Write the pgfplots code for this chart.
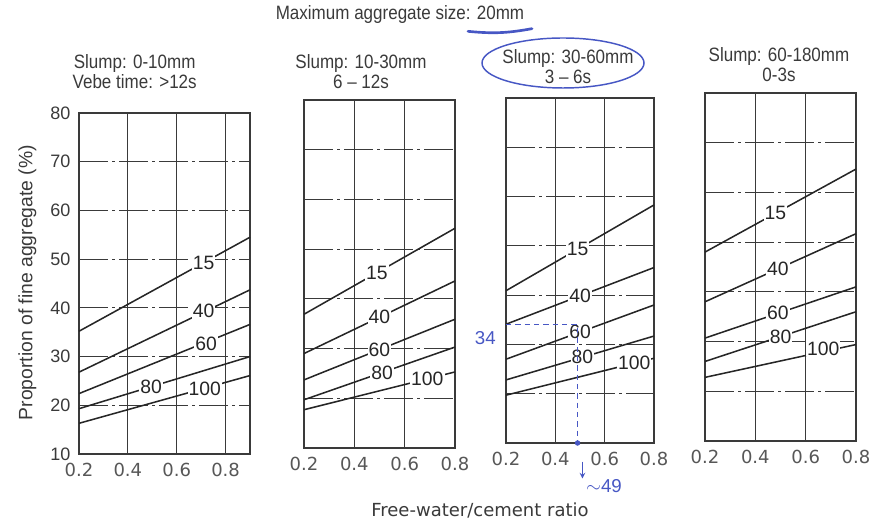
\documentclass[border=0pt]{standalone}
\usepackage{pgfplots}
\pgfplotsset{compat=1.18}
\usepackage{fontspec}
\setmainfont{Liberation Sans}
\newfontfamily\tickfont{DejaVu Sans}
\newfontfamily\titlefont{Liberation Sans}[FakeStretch=0.88]
\definecolor{ink}{HTML}{3A3A3A}
\definecolor{pen}{HTML}{4757C4}

\tikzset{
  curve/.style={black!85, line width=1.15pt},
  lbl/.style={fill=white, inner sep=0.8pt, font=\fontsize{14.5}{14.5}\selectfont, text=black!85},
}
\pgfplotsset{
  panel/.style={
    scale only axis, anchor=south west,
    xmin=0.2, xmax=0.8, ymin=10, ymax=80,
    xtick={0.2,0.4,0.6,0.8}, xticklabels={0.2,0.4,0.6,0.8},
    ytick={10,20,...,80}, yticklabels={},
    grid=major, major tick length=0pt,
    axis line style={ink, line width=1pt},
    x grid style={ink, line width=0.95pt},
    y grid style={ink, line width=0.95pt, dash pattern=on 22pt off 3pt on 2pt off 3pt},
    xticklabel style={font=\tickfont\fontsize{13.5}{13.5}\selectfont, text=ink!85, anchor=base, yshift=-17pt},
    yticklabel style={font=\fontsize{13.5}{13.5}\selectfont, text=ink, anchor=east, xshift=-3pt},
    clip=false,
  },
}

\begin{document}
\begin{tikzpicture}

% Slump 0-10mm
\begin{axis}[panel, at={(59.25pt,52.5pt)}, width=128.25pt, height=255.75pt,
  xmax=0.9, yticklabels={10,20,30,40,50,60,70,80}]
  \addplot[curve] coordinates {(0.2,35.2) (0.9,54.5)};
  \addplot[curve] coordinates {(0.2,26.8) (0.9,43.7)};
  \addplot[curve] coordinates {(0.2,22.4) (0.9,36.6)};
  \addplot[curve] coordinates {(0.2,19.3) (0.9,30.0)};
  \addplot[curve] coordinates {(0.2,16.3) (0.9,26.1)};
  \node[lbl] at (0.71,49.3) {15};
  \node[lbl] at (0.71,39.3) {40};
  \node[lbl] at (0.72,32.6) {60};
  \node[lbl] at (0.495,23.8) {80};
  \node[lbl] at (0.715,23.3) {100};
\end{axis}

% Slump 10-30mm
\begin{axis}[panel, at={(228pt,57pt)}, width=113.25pt, height=261pt]
  \addplot[curve] coordinates {(0.2,36.9) (0.8,54.2)};
  \addplot[curve] coordinates {(0.2,29.0) (0.8,43.6)};
  \addplot[curve] coordinates {(0.2,23.7) (0.8,35.9)};
  \addplot[curve] coordinates {(0.2,19.7) (0.8,30.3)};
  \addplot[curve] coordinates {(0.2,17.7) (0.8,25.3)};
  \node[lbl] at (0.49,45.2) {15};
  \node[lbl] at (0.50,36.3) {40};
  \node[lbl] at (0.50,29.8) {60};
  \node[lbl] at (0.51,25.2) {80};
  \node[lbl] at (0.69,24.0) {100};
\end{axis}

% Slump 30-60mm
\begin{axis}[panel, at={(379.5pt,60.75pt)}, width=111pt, height=258.75pt]
  \addplot[curve] coordinates {(0.2,40.9) (0.8,58.3)};
  \addplot[curve] coordinates {(0.2,34.1) (0.8,45.6)};
  \addplot[curve] coordinates {(0.2,27.0) (0.8,38.0)};
  \addplot[curve] coordinates {(0.2,22.8) (0.8,31.7)};
  \addplot[curve] coordinates {(0.2,19.7) (0.8,27.2)};
  \node[lbl] at (0.49,49.3) {15};
  \node[lbl] at (0.50,39.9) {40};
  \node[lbl] at (0.50,32.5) {60};
  \node[lbl] at (0.51,27.4) {80};
  \node[lbl] at (0.72,26.2) {100};
  % hand annotation
  \addplot[pen, line width=0.8pt, dash pattern=on 4pt off 3pt] coordinates {(0.2,34) (0.49,34) (0.49,10)};
  \addplot[pen, only marks, mark=*, mark size=1.8pt] coordinates {(0.49,10)};
  \draw[pen, line width=0.9pt, -stealth] (0.51,6.2) -- (0.51,2.8);
\end{axis}

% Slump 60-180mm
\begin{axis}[panel, at={(528.75pt,62.25pt)}, width=113.25pt, height=261pt]
  \addplot[curve] coordinates {(0.2,48.0) (0.8,64.7)};
  \addplot[curve] coordinates {(0.2,38.0) (0.8,51.7)};
  \addplot[curve] coordinates {(0.2,30.7) (0.8,41.0)};
  \addplot[curve] coordinates {(0.2,26.0) (0.8,36.0)};
  \addplot[curve] coordinates {(0.2,22.8) (0.8,29.4)};
  \node[lbl] at (0.48,55.8) {15};
  \node[lbl] at (0.49,44.6) {40};
  \node[lbl] at (0.49,35.8) {60};
  \node[lbl] at (0.50,31.0) {80};
  \node[lbl] at (0.67,28.6) {100};
\end{axis}

% titles and labels
\begin{scope}[every node/.style={text=ink, font=\titlefont\fontsize{14.5}{15}\selectfont, align=center}]
  \node at (300pt,381.75pt) {Maximum aggregate size: 20mm};
  \node at (101pt,339pt) {Slump: 0-10mm\\Vebe time: >12s};
  \node at (270.75pt,339pt) {Slump: 10-30mm\\6 – 12s};
  \node at (426pt,342.75pt) {Slump: 30-60mm\\3 – 6s};
  \node at (584.25pt,344.25pt) {Slump: 60-180mm\\0-3s};
  \node[rotate=90, font=\fontsize{14.5}{14.5}\selectfont] at (20.5pt,181pt) {Proportion of fine aggregate (\%)};
  \node[font=\tickfont\fontsize{13.5}{13.5}\selectfont] at (360pt,10.5pt) {Free-water/cement ratio};
\end{scope}

% hand marks
\draw[pen, line width=2pt, line cap=round] (351pt,369.5pt) to[bend right=8] (399pt,371.5pt);
\draw[pen, line width=1.1pt] (422.25pt,345.75pt) ellipse (60.75pt and 18.75pt);
\node[text=pen, font=\fontsize{14}{14}\selectfont] at (364pt,139.5pt) {34};
\node[text=pen, font=\fontsize{14}{14}\selectfont] at (453pt,28.5pt) {$\sim$49};

\pgfresetboundingbox
\path[use as bounding box] (0,0) rectangle (655.5pt,393pt);
\end{tikzpicture}
\end{document}
